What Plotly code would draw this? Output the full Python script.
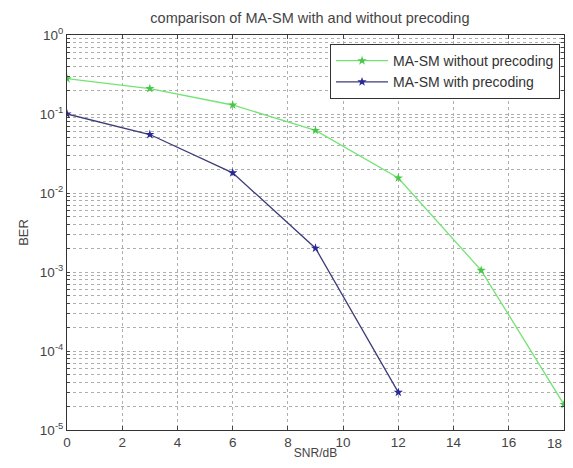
import plotly.graph_objects as go

snr = [0, 3, 6, 9, 12, 15, 18]
ber_without = [0.28, 0.21, 0.13, 0.062, 0.0155, 0.00105, 2.1e-5]
snr_with = [0, 3, 6, 9, 12]
ber_with = [0.1, 0.055, 0.018, 0.002, 3e-5]

x_ticks = [0, 2, 4, 6, 8, 10, 12, 14, 16, 18]
decades = [-5, -4, -3, -2, -1, 0]

yvals, ytext = [], []
for d in decades:
    for m in range(1, 10):
        if d == 0 and m > 1:
            break
        yvals.append(m * 10 ** d)
        ytext.append(f"10<sup>{d}</sup>" if m == 1 else "")

fig = go.Figure()
fig.add_trace(go.Scatter(
    x=snr, y=ber_without, mode="lines+markers", name="MA-SM without precoding",
    line=dict(color="rgb(115,228,115)", width=1.3),
    marker=dict(symbol="star", size=7, color="rgb(70,200,70)")))
fig.add_trace(go.Scatter(
    x=snr_with, y=ber_with, mode="lines+markers", name="MA-SM with precoding",
    line=dict(color="rgb(60,60,120)", width=1.3),
    marker=dict(symbol="star", size=7, color="rgb(40,40,150)")))

# last x tick label sits at the right edge; draw it right-aligned so it stays visible
fig.add_annotation(
    x=x_ticks[-1], xref="x", y=0, yref="paper", xanchor="right", yanchor="top",
    yshift=-4, text=str(x_ticks[-1]), showarrow=False,
    font=dict(size=13.5, color="#444"))

font = dict(family="Liberation Sans, Arial, sans-serif", size=13, color="#444")
fig.update_layout(
    width=557, height=452,
    margin=dict(l=59, r=1, t=27, b=30),
    paper_bgcolor="white", plot_bgcolor="white",
    font=font,
    title=dict(text="comparison of MA-SM with and without precoding",
               x=0.542, xanchor="center", y=0.977, yanchor="middle",
               font=dict(size=14.5, color="#444")),
    legend=dict(x=0.992, y=0.977, xanchor="right", yanchor="top",
                bordercolor="#333", borderwidth=1, bgcolor="white",
                font=dict(size=14, color="#333"), tracegroupgap=0,
                itemwidth=52),
    showlegend=True,
)
fig.update_xaxes(
    range=[0, 18], tickvals=x_ticks, ticks="inside", ticklen=4,
    showline=True, linecolor="#333", linewidth=1, mirror="allticks",
    showgrid=True, gridcolor="rgb(175,175,175)", griddash="dot", gridwidth=1,
    zeroline=False, title=dict(text="SNR/dB", standoff=0, font=dict(size=12)),
    tickfont=dict(size=13.5, color="#444"))
fig.update_yaxes(
    type="log", range=[-5, 0], tickvals=yvals, ticktext=ytext,
    ticks="inside", ticklen=3,
    showline=True, linecolor="#333", linewidth=1, mirror="allticks",
    showgrid=True, gridcolor="rgb(175,175,175)", griddash="dot", gridwidth=1,
    zeroline=False, title=dict(text="BER", standoff=8, font=dict(size=13)),
    tickfont=dict(size=13.5, color="#444"))

fig.write_html("out.html")
